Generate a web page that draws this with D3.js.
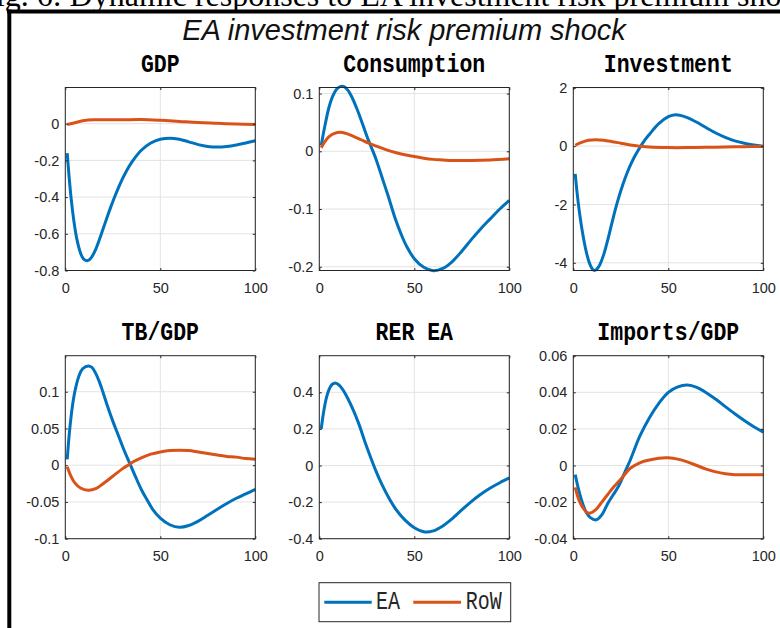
<!DOCTYPE html>
<html>
<head>
<meta charset="utf-8">
<script src="https://cdn.jsdelivr.net/npm/d3@7"></script>
<style>
  html, body { margin: 0; padding: 0; background: #fff; }
  svg { display: block; }
</style>
</head>
<body>
<svg id="chart" width="780" height="628"></svg>
<script>
// impulse responses: [period, value]
const gdpEA = [[1,-0.16],[2,-0.29],[3,-0.40],[4,-0.49],[5,-0.565],[6,-0.625],[7,-0.67],[8,-0.705],[9,-0.728],[10,-0.741],[11,-0.746],[12,-0.745],[13,-0.738],[14,-0.725],[16,-0.685],[18,-0.63],[20,-0.57],[22,-0.51],[24,-0.452],[26,-0.398],[28,-0.348],[30,-0.302],[32,-0.262],[35,-0.21],[40,-0.145],[45,-0.105],[50,-0.085],[55,-0.079],[60,-0.085],[65,-0.099],[70,-0.114],[75,-0.124],[80,-0.127],[85,-0.124],[90,-0.116],[95,-0.105],[100,-0.093]];
const gdpRoW = [[1,-0.005],[5,0.005],[10,0.017],[15,0.021],[20,0.021],[30,0.021],[40,0.022],[50,0.018],[60,0.012],[70,0.006],[80,0.002],[90,-0.002],[100,-0.005]];

const consEA = [[1,0.01],[3,0.045],[5,0.075],[7,0.095],[9,0.107],[11,0.112],[13,0.112],[15,0.106],[17,0.095],[20,0.072],[23,0.045],[26,0.018],[28,0.002],[30,-0.015],[33,-0.045],[36,-0.075],[38,-0.096],[40,-0.117],[43,-0.143],[46,-0.165],[50,-0.186],[55,-0.201],[60,-0.207],[65,-0.203],[70,-0.191],[75,-0.173],[80,-0.153],[85,-0.134],[90,-0.117],[95,-0.1],[100,-0.085]];
const consRoW = [[1,0.006],[3,0.017],[5,0.025],[8,0.031],[11,0.033],[14,0.031],[18,0.026],[22,0.02],[26,0.014],[30,0.009],[35,0.003],[40,-0.002],[45,-0.006],[50,-0.009],[55,-0.012],[60,-0.014],[65,-0.015],[70,-0.016],[75,-0.016],[80,-0.016],[90,-0.015],[100,-0.013]];

const invEA = [[1,-0.95],[2,-1.6],[3,-2.15],[4,-2.62],[5,-3.02],[6,-3.37],[7,-3.67],[8,-3.91],[9,-4.09],[10,-4.21],[11,-4.26],[12,-4.24],[13,-4.17],[14,-4.06],[16,-3.72],[18,-3.25],[20,-2.72],[22,-2.2],[24,-1.74],[26,-1.33],[28,-0.97],[30,-0.66],[32,-0.39],[34,-0.16],[36,0.05],[38,0.24],[40,0.4],[45,0.77],[50,1.01],[53,1.07],[56,1.06],[60,0.98],[65,0.82],[70,0.63],[75,0.45],[80,0.3],[85,0.18],[90,0.1],[95,0.04],[100,0.0]];
const invRoW = [[1,0.03],[4,0.12],[8,0.2],[12,0.22],[16,0.2],[20,0.16],[25,0.1],[30,0.04],[35,0.0],[40,-0.03],[50,-0.05],[60,-0.05],[70,-0.04],[80,-0.03],[90,-0.02],[100,-0.01]];

const tbEA = [[1,0.008],[2,0.04],[3,0.065],[4,0.085],[5,0.1],[7,0.12],[9,0.131],[12,0.135],[14,0.133],[16,0.125],[18,0.113],[20,0.098],[22,0.082],[25,0.06],[28,0.04],[31,0.02],[34,0.002],[37,-0.016],[40,-0.033],[43,-0.047],[46,-0.06],[50,-0.072],[55,-0.081],[60,-0.0845],[65,-0.082],[70,-0.076],[75,-0.068],[80,-0.06],[85,-0.052],[90,-0.045],[95,-0.039],[100,-0.033]];
const tbRoW = [[1,-0.002],[3,-0.015],[5,-0.024],[8,-0.031],[12,-0.034],[16,-0.032],[20,-0.025],[25,-0.015],[30,-0.005],[33,0.0],[36,0.005],[40,0.01],[45,0.015],[50,0.018],[55,0.02],[60,0.0205],[65,0.02],[70,0.018],[75,0.016],[80,0.014],[85,0.012],[90,0.011],[95,0.009],[100,0.008]];

const rerEA = [[1,0.2],[2,0.275],[3,0.335],[4,0.38],[5,0.412],[6,0.433],[7,0.445],[8,0.45],[9,0.449],[10,0.443],[11,0.433],[12,0.42],[13,0.404],[15,0.366],[18,0.3],[21,0.222],[24,0.13],[27,0.045],[30,-0.035],[33,-0.105],[37,-0.185],[40,-0.235],[45,-0.297],[50,-0.34],[55,-0.362],[60,-0.357],[65,-0.33],[70,-0.29],[75,-0.243],[80,-0.197],[85,-0.157],[90,-0.123],[95,-0.094],[100,-0.068]];

const impEA = [[1,-0.005],[3,-0.014],[5,-0.021],[7,-0.026],[9,-0.0285],[12,-0.0297],[15,-0.027],[18,-0.021],[21,-0.016],[24,-0.011],[27,-0.004],[30,0.003],[35,0.016],[40,0.026],[45,0.034],[50,0.04],[55,0.043],[60,0.044],[65,0.0427],[70,0.0398],[75,0.0362],[80,0.0322],[85,0.0283],[90,0.0246],[95,0.0212],[100,0.0182]];
const impRoW = [[1,-0.012],[3,-0.019],[5,-0.023],[7,-0.0255],[9,-0.026],[12,-0.024],[15,-0.02],[18,-0.016],[21,-0.012],[25,-0.0075],[30,-0.0015],[35,0.0015],[40,0.003],[45,0.004],[50,0.0042],[55,0.0035],[60,0.002],[65,0.0],[70,-0.002],[75,-0.0035],[80,-0.0045],[85,-0.005],[90,-0.005],[100,-0.005]];

const panelTitles = ['GDP', 'Consumption', 'Investment', 'TB/GDP', 'RER EA', 'Imports/GDP'];
const yTicks = [
  [-0.8, -0.6, -0.4, -0.2, 0],
  [-0.2, -0.1, 0, 0.1],
  [-4, -2, 0, 2],
  [-0.1, -0.05, 0, 0.05, 0.1],
  [-0.4, -0.2, 0, 0.2, 0.4],
  [-0.04, -0.02, 0, 0.02, 0.04, 0.06]
];
const yLimits = [[-0.8, 0.197], [-0.2065, 0.1105], [-4.264, 2.01], [-0.1, 0.149], [-0.4, 0.6], [-0.04, 0.06]];
const xTicks = [0, 50, 100];
const seriesNames = ['EA', 'RoW'];
const panelSeries = [[gdpEA, gdpRoW], [consEA, consRoW], [invEA, invRoW], [tbEA, tbRoW], [rerEA, null], [impEA, impRoW]];

const figTitle = 'EA investment risk premium shock';
const captionText = 'Fig. 6: Dynamic responses to EA investment risk premium shock';

const colors = ['#0072BD', '#D95319'];
const axisColor = '#262626';
const gridColor = '#e3e3e3';

const svg = d3.select('#chart');

// caption of the page above, cut by the top edge
svg.append('text')
  .attr('x', -22).attr('y', 6)
  .style('font-family', '"Liberation Serif", "Times New Roman", serif')
  .style('font-size', '32px')
  .text(captionText);

// frame lines
svg.append('line').attr('x1', 7).attr('x2', 780).attr('y1', 11.5).attr('y2', 11.5)
  .attr('stroke', '#000').attr('stroke-width', 4);
svg.append('line').attr('x1', 9.3).attr('x2', 9.3).attr('y1', 9.5).attr('y2', 628)
  .attr('stroke', '#000').attr('stroke-width', 4);

svg.append('text')
  .attr('x', 404).attr('y', 40)
  .attr('text-anchor', 'middle')
  .style('font-family', '"Liberation Sans", Arial, sans-serif')
  .style('font-style', 'italic')
  .style('font-size', '29px')
  .attr('fill', '#111')
  .text(figTitle);

const colLeft = [65.3, 319.3, 573.3];
const rowTop = [87.5, 355.7];
const plotW = 190;
const plotH = 183;
const fmt = v => String(Math.round(v * 1e6) / 1e6);

panelTitles.forEach((title, i) => {
  const left = colLeft[i % 3];
  const top = rowTop[Math.floor(i / 3)];
  const g = svg.append('g').attr('transform', `translate(${left},${top})`);

  const x = d3.scaleLinear().domain([0, 100]).range([0, plotW]);
  const y = d3.scaleLinear().domain(yLimits[i]).range([plotH, 0]);

  // grid
  g.selectAll('.gy').data(yTicks[i]).enter().append('line')
    .attr('x1', 0).attr('x2', plotW)
    .attr('y1', d => y(d)).attr('y2', d => y(d))
    .attr('stroke', gridColor).attr('stroke-width', 1);
  g.selectAll('.gx').data(xTicks).enter().append('line')
    .attr('x1', d => x(d)).attr('x2', d => x(d))
    .attr('y1', 0).attr('y2', plotH)
    .attr('stroke', gridColor).attr('stroke-width', 1);

  // curves
  const line = d3.line()
    .x(d => x(d[0]))
    .y(d => y(d[1]))
    .curve(d3.curveCatmullRom.alpha(0.5));
  panelSeries[i].forEach((s, k) => {
    if (!s) return;
    g.append('path')
      .datum(s)
      .attr('d', line)
      .attr('fill', 'none')
      .attr('stroke', colors[k])
      .attr('stroke-width', 3)
      .attr('stroke-linejoin', 'round');
  });

  // axes (box with inward ticks on all sides)
  const axL = d3.axisLeft(y).tickValues(yTicks[i]).tickSizeInner(-2.5).tickSizeOuter(0).tickPadding(6).tickFormat(fmt);
  const axR = d3.axisRight(y).tickValues(yTicks[i]).tickSizeInner(-2.5).tickSizeOuter(0).tickFormat('');
  const axB = d3.axisBottom(x).tickValues(xTicks).tickSizeInner(-2.5).tickSizeOuter(0).tickPadding(12).tickFormat(fmt);
  const axT = d3.axisTop(x).tickValues(xTicks).tickSizeInner(-2.5).tickSizeOuter(0).tickFormat('');

  const gl = g.append('g').call(axL);
  const gr = g.append('g').attr('transform', `translate(${plotW},0)`).call(axR);
  const gb = g.append('g').attr('transform', `translate(0,${plotH})`).call(axB);
  const gt = g.append('g').call(axT);
  [gl, gr, gb, gt].forEach(a => {
    a.select('.domain').remove();
    a.selectAll('line').attr('stroke', axisColor);
    a.selectAll('text')
      .attr('fill', axisColor)
      .style('font-family', '"Liberation Sans", Arial, sans-serif')
      .style('font-size', '14.5px');
  });

  g.append('rect')
    .attr('x', 0).attr('y', 0).attr('width', plotW).attr('height', plotH)
    .attr('fill', 'none').attr('stroke', axisColor).attr('stroke-width', 1);

  // panel title
  g.append('text')
    .attr('transform', `translate(${plotW / 2},${-15.5}) scale(1,1.2)`)
    .attr('text-anchor', 'middle')
    .style('font-family', '"Liberation Mono", "Courier New", monospace')
    .style('font-weight', 'bold')
    .style('font-size', '21.5px')
    .attr('fill', '#000')
    .text(title);
});

// legend
const legend = svg.append('g').attr('transform', 'translate(319,582.7)');
legend.append('rect')
  .attr('width', 191.7).attr('height', 39)
  .attr('fill', '#fff').attr('stroke', axisColor).attr('stroke-width', 1);
const legX = [[5.3, 52.7, 57], [94.3, 142, 146.7]];
seriesNames.forEach((name, k) => {
  legend.append('line')
    .attr('x1', legX[k][0]).attr('x2', legX[k][1])
    .attr('y1', 19.6).attr('y2', 19.6)
    .attr('stroke', colors[k]).attr('stroke-width', 3);
  legend.append('text')
    .attr('transform', `translate(${legX[k][2]},26.5) scale(1,1.25)`)
    .style('font-family', '"Liberation Mono", "Courier New", monospace')
    .style('font-size', '20px')
    .attr('fill', axisColor)
    .text(name);
});
</script>
</body>
</html>
